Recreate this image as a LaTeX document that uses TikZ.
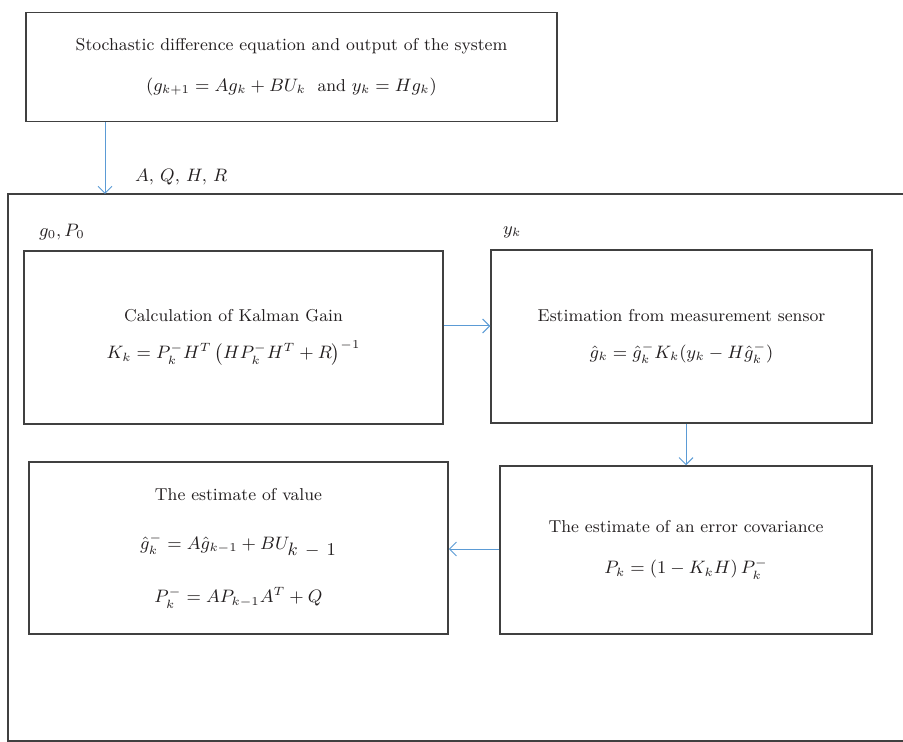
\documentclass[tikz,border=0pt]{standalone}
\usepackage{amsmath}
\usepackage{tikz}
\usetikzlibrary{arrows.meta, positioning}
\definecolor{kblue}{RGB}{91,155,213}
\definecolor{kgray}{RGB}{64,64,64}
\definecolor{ktext}{RGB}{35,31,32}

\begin{document}
\begin{tikzpicture}[
  x=0.5pt, y=-0.5pt,
  font=\fontsize{8.6}{10.5}\selectfont,
  text=ktext,
  blk/.style={draw=kgray,line width=0.75pt,align=center,inner sep=2pt},
  arr/.style={-{Straight Barb[length=3.5pt,width=7pt]},color=kblue,line width=0.5pt}
]
  \useasboundingbox (0,0) rectangle (903,742);
  % frame around the filter loop (open on the right)
  \draw[kgray,line width=0.75pt] (903,194) -- (8,194) -- (8,741) -- (903,741);

  \node[blk,minimum width=265.5pt,minimum height=54.5pt] (sys) at (291.5,67)
    {Stochastic difference equation and output of the system\\[10pt]
     $\left(g_{k+1} = Ag_k + BU_k \ \text{ and } y_k = Hg_k\right)$};
  \node[blk,minimum width=209.5pt,minimum height=86.5pt] (gain) at (233.5,337.5)
    {Calculation of Kalman Gain\\[8pt]
     $K_k = P_k^{-}H^T\left(HP_k^{-}H^T + R\right)^{-1}$};
  \node[blk,minimum width=190.5pt,minimum height=86.5pt] (meas) at (681.5,336.5)
    {Estimation from measurement sensor\\[8pt]
     $\hat{g}_k = \hat{g}_k^{-}K_k(y_k - H\hat{g}_k^{-})$};
  \node[blk,minimum width=186pt,minimum height=84pt] (cov) at (686,550)
    {The estimate of an error covariance\\[10pt]
     $P_k = \left(1 - K_kH\right)P_k^{-}$};
  \node[blk,minimum width=209.5pt,minimum height=86pt] (est) at (238.5,548)
    {The estimate of value\\[14pt]
     $\hat{g}_k^{-} = A\hat{g}_{k-1} + BU_{\textstyle k\,-\,1}$\\[14pt]
     $P_k^{-} = AP_{k-1}A^T + Q$};

  \coordinate (top) at (105,194);
  \draw[arr] (sys.south -| top) -- (top);
  \node[anchor=west] (aqhr) at (128,177) {$A,\, Q,\, H,\, R$};
  \node[anchor=west] (init) at (32,232) {$g_0, P_0$};
  \node[anchor=west] (yk) at (496,232) {$y_k$};

  \draw[arr] (gain.east |- 0,326) -- (meas.west |- 0,326);
  \draw[arr] (meas.south -| 686,0) -- (cov.north -| 686,0);
  \draw[arr] (cov.west |- 0,549) -- (est.east |- 0,549);
\end{tikzpicture}
\end{document}
